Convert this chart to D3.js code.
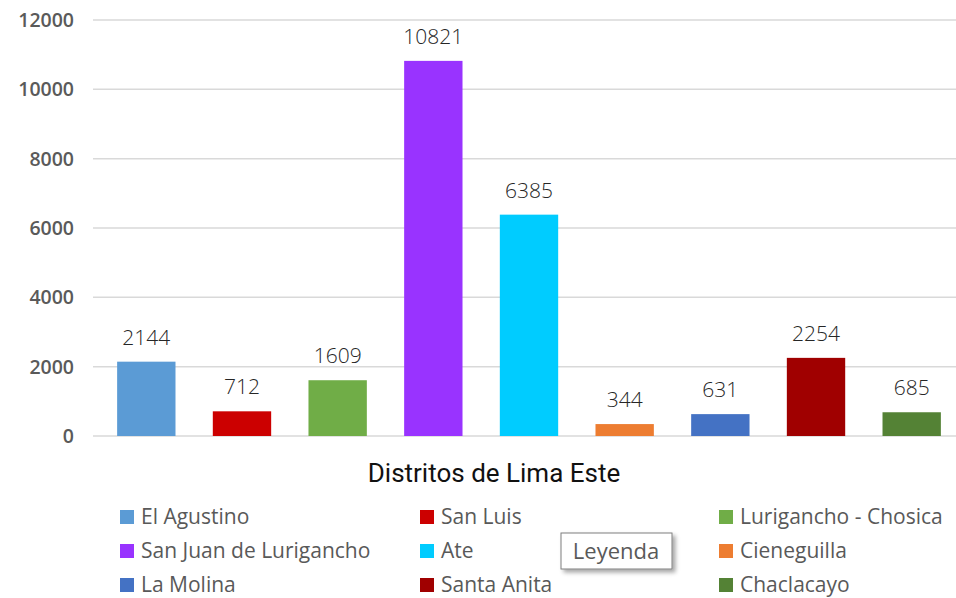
<!DOCTYPE html>
<html>
<head>
<meta charset="utf-8">
<script src="https://cdn.jsdelivr.net/npm/d3@7"></script>
<style>
  body { margin: 0; background: #fff; }
  svg { display: block; }
</style>
</head>
<body>
<div id="chart"></div>
<script>
var districts = ["El Agustino", "San Luis", "Lurigancho - Chosica", "San Juan de Lurigancho",
                 "Ate", "Cieneguilla", "La Molina", "Santa Anita", "Chaclacayo"];
var counts = [2144, 712, 1609, 10821, 6385, 344, 631, 2254, 685];
var colors = ["#5B9BD5", "#CC0000", "#70AD47", "#9933FF", "#00CCFF",
              "#ED7D31", "#4472C4", "#A00000", "#548235"];
var yTicks = [0, 2000, 4000, 6000, 8000, 10000, 12000];

var width = 956,
    height = 598;

var svg = d3.select("#chart").append("svg")
    .attr("width", width)
    .attr("height", height);

var x = d3.scaleBand()
    .domain(districts)
    .range([98, width + 4])
    .paddingInner(0.39)
    .paddingOuter(0.2);

// baseline sits at 436, top gridline at 20
var y = d3.scaleLinear()
    .domain([0, 12000])
    .range([436, 20]);

// gridlines
svg.append("g")
  .selectAll("line")
  .data(yTicks)
  .enter().append("line")
    .attr("x1", 93)
    .attr("x2", width)
    .attr("y1", function(d) { return y(d); })
    .attr("y2", function(d) { return y(d); })
    .attr("stroke", "#d9d9d9")
    .attr("stroke-width", 1.5);

// y tick labels
svg.append("g")
  .selectAll("text")
  .data(yTicks)
  .enter().append("text")
    .attr("x", 74)
    .attr("y", function(d) { return y(d) + 7; })
    .attr("text-anchor", "end")
    .attr("font-family", "Open Sans, sans-serif")
    .attr("font-size", 19.5)
    .attr("font-weight", 600)
    .attr("fill", "#5a5a5a")
    .text(function(d) { return d; });

// bars
svg.append("g")
  .selectAll("rect")
  .data(counts)
  .enter().append("rect")
    .attr("x", function(d, i) { return x(districts[i]); })
    .attr("y", function(d) { return y(d); })
    .attr("width", x.bandwidth())
    .attr("height", function(d) { return y(0) - y(d); })
    .attr("fill", function(d, i) { return colors[i]; });

// value labels
svg.append("g")
  .selectAll("text")
  .data(counts)
  .enter().append("text")
    .attr("x", function(d, i) { return x(districts[i]) + x.bandwidth() / 2; })
    .attr("y", function(d) { return y(d) - 17; })
    .attr("text-anchor", "middle")
    .attr("font-family", "Open Sans, sans-serif")
    .attr("font-size", 21)
    .attr("font-weight", 300)
    .attr("fill", "#262626")
    .text(function(d) { return d; });

// axis title
svg.append("text")
    .attr("x", 494)
    .attr("y", 482)
    .attr("text-anchor", "middle")
    .attr("font-family", "Roboto, sans-serif")
    .attr("font-size", 26)
    .attr("fill", "#111")
    .text("Distritos de Lima Este");

// legend, 3 columns x 3 rows
var colX = [120, 420, 719],
    rowY = [516, 550, 584];
var legend = svg.append("g")
  .selectAll("g")
  .data(districts)
  .enter().append("g")
    .attr("transform", function(d, i) {
      return "translate(" + colX[i % 3] + "," + rowY[Math.floor(i / 3)] + ")";
    });

legend.append("rect")
    .attr("x", 0)
    .attr("y", -6)
    .attr("width", 14)
    .attr("height", 14)
    .attr("fill", function(d, i) { return colors[i]; });

legend.append("text")
    .attr("x", 21)
    .attr("y", 8)
    .attr("font-family", "Open Sans, sans-serif")
    .attr("font-size", 21)
    .attr("fill", "#595959")
    .text(function(d) { return d; });

// "Leyenda" box
var defs = svg.append("defs");
var filter = defs.append("filter")
    .attr("id", "shadow")
    .attr("x", "-20%").attr("y", "-20%")
    .attr("width", "150%").attr("height", "160%");
filter.append("feDropShadow")
    .attr("dx", 3)
    .attr("dy", 3)
    .attr("stdDeviation", 2)
    .attr("flood-color", "#000")
    .attr("flood-opacity", 0.35);

svg.append("rect")
    .attr("x", 561)
    .attr("y", 533)
    .attr("width", 111)
    .attr("height", 36)
    .attr("fill", "#fff")
    .attr("stroke", "#7f7f7f")
    .attr("stroke-width", 1)
    .style("filter", "url(#shadow)");

svg.append("text")
    .attr("x", 616)
    .attr("y", 559)
    .attr("text-anchor", "middle")
    .attr("font-family", "Open Sans, sans-serif")
    .attr("font-size", 22)
    .attr("fill", "#595959")
    .text("Leyenda");
</script>
</body>
</html>
